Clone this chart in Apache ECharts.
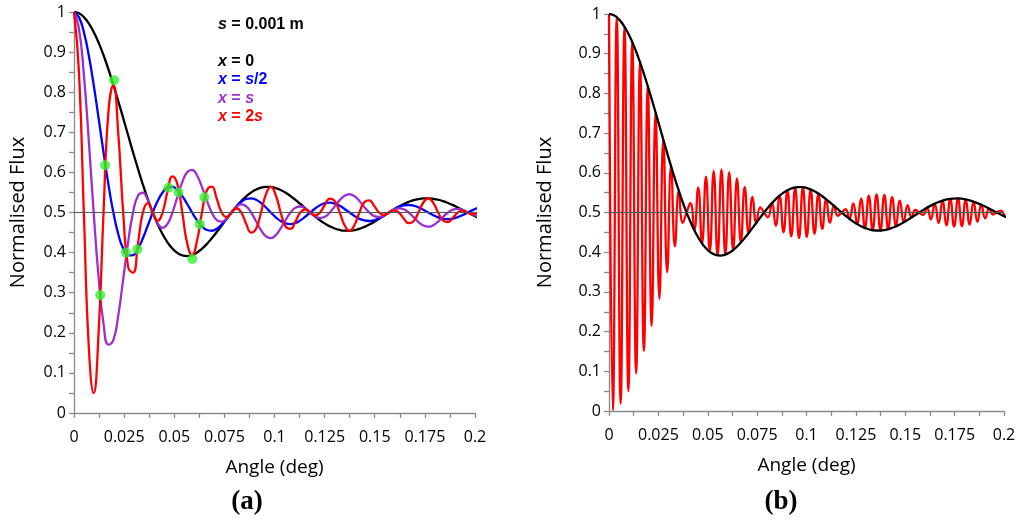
<!DOCTYPE html>
<html>
<head>
<meta charset="utf-8">
<script src="https://cdn.jsdelivr.net/npm/echarts@6/dist/echarts.min.js"></script>
<style>html,body{margin:0;padding:0;background:#fff}#c{width:1024px;height:524px}</style>
</head>
<body>
<div id="c"></div>
<script>
// Angle (deg) sample positions for panel (a) curves and the envelope
const angleGrid = [0,0.00245,0.00491,0.00736,0.00982,0.01227,0.01473,0.01718,0.01963,0.02209,
0.02454,0.02700,0.02945,0.03191,0.03436,0.03682,0.03927,0.04172,0.04418,0.04663,
0.04909,0.05154,0.05400,0.05645,0.05890,0.06136,0.06381,0.06627,0.06872,0.07118,
0.07363,0.07609,0.07854,0.08099,0.08345,0.08590,0.08836,0.09081,0.09327,0.09572,
0.09817,0.10063,0.10308,0.10554,0.10799,0.11045,0.11290,0.11536,0.11781,0.12026,
0.12272,0.12517,0.12763,0.13008,0.13254,0.13499,0.13744,0.13990,0.14235,0.14481,
0.14726,0.14972,0.15217,0.15463,0.15708,0.15953,0.16199,0.16444,0.16690,0.16935,
0.17181,0.17426,0.17671,0.17917,0.18162,0.18408,0.18653,0.18899,0.19144,0.19390,
0.19635,0.19880,0.20126];
// x = 0 (black)
const fluxX0 = [1.0000,0.9968,0.9872,0.9716,0.9502,0.9235,0.8921,0.8568,0.8183,0.7775,
0.7353,0.6925,0.6501,0.6088,0.5696,0.5331,0.5000,0.4708,0.4459,0.4255,
0.4100,0.3992,0.3931,0.3914,0.3939,0.4001,0.4095,0.4216,0.4357,0.4512,
0.4675,0.4840,0.5000,0.5151,0.5287,0.5404,0.5500,0.5572,0.5619,0.5640,
0.5637,0.5609,0.5560,0.5492,0.5409,0.5314,0.5212,0.5106,0.5000,0.4899,
0.4805,0.4723,0.4654,0.4601,0.4564,0.4546,0.4545,0.4562,0.4594,0.4641,
0.4700,0.4768,0.4843,0.4921,0.5000,0.5076,0.5148,0.5211,0.5265,0.5307,
0.5336,0.5352,0.5354,0.5342,0.5318,0.5282,0.5237,0.5184,0.5125,0.5063,
0.5000,0.4939,0.4881];
// x = s/2 (blue)
const fluxXHalf = [1.0000,0.9872,0.9502,0.8921,0.8183,0.7353,0.6501,0.5696,0.5000,0.4459,
0.4100,0.3931,0.3939,0.4095,0.4357,0.4675,0.5000,0.5287,0.5500,0.5619,
0.5637,0.5560,0.5409,0.5212,0.5000,0.4805,0.4654,0.4564,0.4545,0.4594,
0.4700,0.4843,0.5000,0.5148,0.5265,0.5336,0.5354,0.5318,0.5237,0.5125,
0.5000,0.4881,0.4786,0.4726,0.4711,0.4739,0.4804,0.4896,0.5000,0.5099,
0.5180,0.5231,0.5245,0.5222,0.5167,0.5089,0.5000,0.4915,0.4845,0.4801,
0.4788,0.4807,0.4855,0.4923,0.5000,0.5075,0.5136,0.5176,0.5187,0.5170,
0.5129,0.5069,0.5000,0.4933,0.4878,0.4843,0.4832,0.4847,0.4885,0.4938,
0.5000,0.5060,0.5110];
// x = s (purple)
const fluxXs = [1.0000,0.9590,0.8445,0.6805,0.5000,0.3379,0.2227,0.1704,0.1817,0.2436,
0.3336,0.4263,0.5000,0.5416,0.5492,0.5306,0.5000,0.4730,0.4617,0.4715,
0.5000,0.5386,0.5756,0.6003,0.6061,0.5923,0.5640,0.5300,0.5000,0.4813,
0.4770,0.4852,0.5000,0.5139,0.5203,0.5155,0.5000,0.4781,0.4562,0.4408,
0.4363,0.4437,0.4604,0.4812,0.5000,0.5120,0.5150,0.5098,0.5000,0.4906,
0.4862,0.4894,0.5000,0.5153,0.5308,0.5420,0.5455,0.5405,0.5287,0.5137,
0.5000,0.4911,0.4889,0.4927,0.5000,0.5071,0.5104,0.5081,0.5000,0.4883,
0.4762,0.4675,0.4646,0.4684,0.4775,0.4892,0.5000,0.5070,0.5088,0.5058,
0.5000,0.4943,0.4916];
// x = 2s (red)
const fluxX2s = [1.0000,0.8513,0.5000,0.1665,0.0498,0.2006,0.5000,0.7523,0.8183,0.6962,
0.5000,0.3639,0.3499,0.4230,0.5000,0.5234,0.5000,0.4793,0.5000,0.5527,
0.5900,0.5713,0.5000,0.4232,0.3939,0.4294,0.5000,0.5555,0.5643,0.5345,
0.5000,0.4887,0.5000,0.5106,0.5000,0.4714,0.4500,0.4595,0.5000,0.5453,
0.5637,0.5431,0.5000,0.4652,0.4591,0.4778,0.5000,0.5075,0.5000,0.4928,
0.5000,0.5196,0.5346,0.5283,0.5000,0.4679,0.4545,0.4690,0.5000,0.5254,
0.5300,0.5164,0.5000,0.4944,0.5000,0.5054,0.5000,0.4851,0.4735,0.4783,
0.5000,0.5249,0.5354,0.5242,0.5000,0.4800,0.4763,0.4870,0.5000,0.5045,
0.5000,0.4957,0.5000];
// green markers in panel (a)
const markerAngle = [0.0200,0.0155,0.0131,0.0259,0.0316,0.0471,0.0521,0.0650,0.0627,0.0590];
const markerFlux  = [0.830,0.618,0.294,0.400,0.408,0.562,0.550,0.538,0.471,0.384];
// panel (b): angles of the fast oscillation's extremes, and their flux
const angleFine = [0,0.00196,0.00393,0.00589,0.00785,0.00982,0.01178,0.01374,0.01571,0.01767,
0.01963,0.02160,0.02356,0.02553,0.02749,0.02945,0.03142,0.03338,0.03534,0.03731,
0.03927,0.04123,0.04320,0.04516,0.04712,0.04909,0.05105,0.05301,0.05498,0.05694,
0.05890,0.06087,0.06283,0.06480,0.06676,0.06872,0.07069,0.07265,0.07461,0.07658,
0.07854,0.08050,0.08247,0.08443,0.08639,0.08836,0.09032,0.09228,0.09425,0.09621,
0.09817,0.10014,0.10210,0.10407,0.10603,0.10799,0.10996,0.11192,0.11388,0.11585,
0.11781,0.11977,0.12174,0.12370,0.12566,0.12763,0.12959,0.13155,0.13352,0.13548,
0.13744,0.13941,0.14137,0.14334,0.14530,0.14726,0.14923,0.15119,0.15315,0.15512,
0.15708,0.15904,0.16101,0.16297,0.16493,0.16690,0.16886,0.17082,0.17279,0.17475,
0.17671,0.17868,0.18064,0.18261,0.18457,0.18653,0.18850,0.19046,0.19242,0.19439,
0.19635,0.19831,0.20028];
const fluxFar = [1.0000,0.0021,0.9918,0.0183,0.9678,0.0498,0.9292,0.0948,0.8784,0.1507,
0.8183,0.2142,0.7523,0.2818,0.6839,0.3499,0.6169,0.4150,0.5546,0.4738,
0.5000,0.5237,0.4553,0.5628,0.4220,0.5900,0.4010,0.6050,0.3919,0.6084,
0.3939,0.6014,0.4054,0.5859,0.4243,0.5643,0.4480,0.5391,0.4741,0.5128,
0.5000,0.4879,0.5234,0.4664,0.5425,0.4500,0.5560,0.4397,0.5631,0.4358,
0.5637,0.4384,0.5582,0.4465,0.5477,0.4591,0.5334,0.4746,0.5170,0.4916,
0.5000,0.5082,0.4841,0.5229,0.4708,0.5346,0.4610,0.5423,0.4555,0.5456,
0.4545,0.5443,0.4580,0.5389,0.4652,0.5300,0.4754,0.5188,0.4874,0.5063,
0.5000,0.4939,0.5120,0.4826,0.5223,0.4735,0.5299,0.4674,0.5344,0.4647,
0.5354,0.4655,0.5329,0.4695,0.5274,0.4763,0.5195,0.4851,0.5100,0.4950,
0.5000,0.5049,0.4904];

const pair = (xs, ys) => xs.map((x, i) => [x, ys[i]]);
const FONT = 'Open Sans';
const AXC = '#8a8a8a';

function mkX(gi) {
  return {
    type: 'value', gridIndex: gi, min: 0, max: 0.2, interval: 0.025,
    axisLine: { lineStyle: { color: AXC, width: 1.3 } },
    axisTick: { show: true, length: 5, lineStyle: { color: AXC, width: 1.3 } },
    minorTick: { show: true, splitNumber: 2, length: 5, lineStyle: { color: AXC, width: 1.3 } },
    splitLine: { show: false },
    axisLabel: { color: '#000', fontSize: 16, fontFamily: FONT, margin: 16 },
    name: 'Angle (deg)', nameLocation: 'middle', nameGap: 45,
    nameTextStyle: { color: '#000', fontSize: 19, fontFamily: FONT }
  };
}
function mkY(gi, gap) {
  return {
    type: 'value', gridIndex: gi, min: 0, max: 1, interval: 0.1,
    axisLine: { show: true, lineStyle: { color: AXC, width: 1.3 } },
    axisTick: { show: true, length: 5, lineStyle: { color: AXC, width: 1.3 } },
    minorTick: { show: true, splitNumber: 2, length: 5, lineStyle: { color: AXC, width: 1.3 } },
    splitLine: { show: false },
    axisLabel: { color: '#000', fontSize: 16, fontFamily: FONT, margin: 8 },
    name: 'Normalised Flux', nameLocation: 'middle', nameGap: gap,
    nameTextStyle: { color: '#000', fontSize: 20, fontFamily: FONT }
  };
}
function note(text, color, top) {
  const base = { color: color, fontSize: 16, fontWeight: 'bold', fontFamily: 'Liberation Sans' };
  return {
    text: text, left: 218, top: top, padding: 0,
    textStyle: Object.assign({}, base, { rich: {
      v: Object.assign({}, base, { fontStyle: 'italic' }),
      t: Object.assign({}, base)
    } })
  };
}
const halfLine = {
  silent: true, symbol: 'none', label: { show: false },
  lineStyle: { color: '#555', width: 1, type: 'solid' },
  data: [{ yAxis: 0.5 }]
};
function curve(gi, xs, ys, color, withMark) {
  const s = {
    type: 'line', xAxisIndex: gi, yAxisIndex: gi, data: pair(xs, ys),
    smooth: 0.5, showSymbol: false, symbol: 'none',
    lineStyle: { color: color, width: 2.3 }, itemStyle: { color: color }
  };
  if (withMark) s.markLine = halfLine;
  return s;
}

const chart = echarts.init(document.getElementById('c'), null, { renderer: 'canvas' });
chart.setOption({
  animation: false,
  backgroundColor: '#ffffff',
  title: [
    note('{v|s}{t| = 0.001 m}', '#000000', 17),
    note('{v|x}{t| = 0}', '#000000', 54),
    note('{v|x}{t| = }{v|s}{t|/2}', '#0000ff', 72),
    note('{v|x}{t| = }{v|s}', '#9b30d0', 91),
    note('{v|x}{t| = 2}{v|s}', '#ff0000', 109)
  ],
  graphic: [
    { type: 'text', x: 247, y: 502, style: { text: '(a)', font: 'bold 27px "Liberation Serif"', fill: '#000', align: 'center', verticalAlign: 'middle' } },
    { type: 'text', x: 781, y: 502, style: { text: '(b)', font: 'bold 27px "Liberation Serif"', fill: '#000', align: 'center', verticalAlign: 'middle' } }
  ],
  grid: [
    { left: 74, top: 12, width: 401, height: 401 },
    { left: 609, top: 14, width: 395, height: 397 }
  ],
  xAxis: [mkX(0), mkX(1)],
  yAxis: [mkY(0, 46), mkY(1, 54)],
  series: [
    curve(0, angleGrid, fluxX0, '#000000', true),
    curve(0, angleGrid, fluxXHalf, '#0000ff', false),
    curve(0, angleGrid, fluxXs, '#9b30d0', false),
    curve(0, angleGrid, fluxX2s, '#ff0000', false),
    {
      type: 'scatter', xAxisIndex: 0, yAxisIndex: 0, data: pair(markerAngle, markerFlux),
      symbolSize: 10, itemStyle: { color: '#2ff22f' }, z: 5
    },
    curve(1, angleFine, fluxFar, '#ff0000', true),
    curve(1, angleGrid, fluxX0, '#000000', false)
  ]
});
</script>
</body>
</html>
